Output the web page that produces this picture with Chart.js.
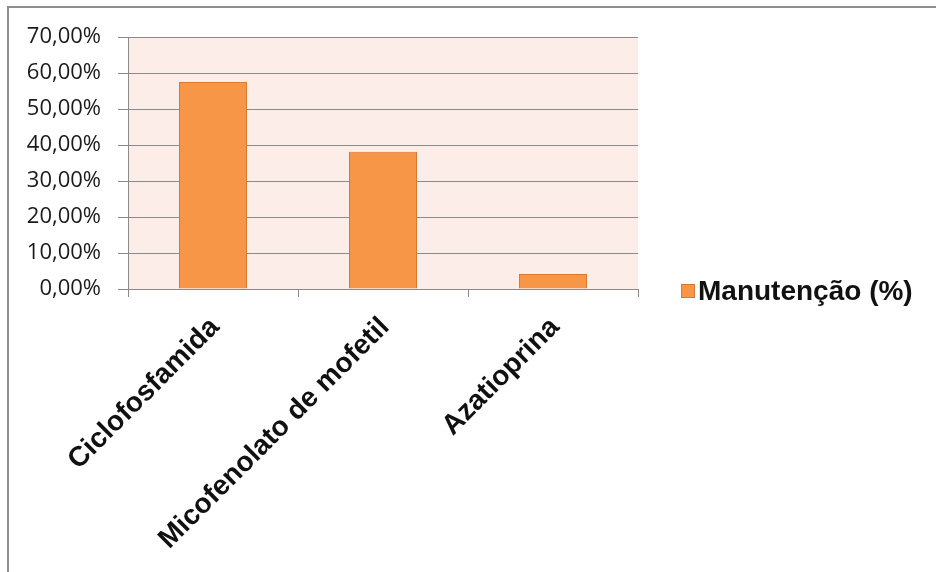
<!DOCTYPE html>
<html>
<head>
<meta charset="utf-8">
<script src="https://cdn.jsdelivr.net/npm/chart.js@4/dist/chart.umd.min.js"></script>
<style>
  html, body { margin: 0; padding: 0; background: #ffffff; }
  #wrap { position: relative; width: 936px; height: 572px; overflow: hidden; }
  #frame { position: absolute; left: 7px; top: 6px; width: 1000px; height: 1000px;
           border-left: 2px solid #8e8e8e; border-top: 2px solid #8e8e8e; }
  canvas { position: absolute; left: 0; top: 0; }
</style>
</head>
<body>
<div id="wrap">
  <div id="frame"></div>
  <canvas id="chart" width="936" height="572"></canvas>
</div>
<script>
// Medicamentos na fase de manutenção
const categories = ['Ciclofosfamida', 'Micofenolato de mofetil', 'Azatioprina'];
const seriesLabel = 'Manutenção (%)';
const manutencao = [57.5, 38.1, 4.2];
const yTicks = [0, 10, 20, 30, 40, 50, 60, 70];

const fmtPct = v => v.toFixed(2).replace('.', ',') + '%';

// light background behind the plot area
const plotBackground = {
  id: 'plotBackground',
  beforeDraw(chart) {
    const { ctx, chartArea: a } = chart;
    ctx.save();
    ctx.fillStyle = '#fcede8';
    ctx.fillRect(a.left, a.top, a.right - a.left, a.bottom - a.top);
    ctx.restore();
  }
};

// legend drawn to the right of the plot, from the dataset itself
const sideLegend = {
  id: 'sideLegend',
  afterDraw(chart) {
    const { ctx } = chart;
    const ds = chart.data.datasets[0];
    const x = 681, cy = 291, s = 14;
    ctx.save();
    ctx.fillStyle = ds.backgroundColor;
    ctx.strokeStyle = ds.borderColor;
    ctx.lineWidth = 1;
    ctx.fillRect(x, cy - s / 2, s, s);
    ctx.strokeRect(x + 0.5, cy - s / 2 + 0.5, s - 1, s - 1);
    ctx.fillStyle = '#111111';
    ctx.font = 'bold 28px "Liberation Sans", Arial, sans-serif';
    ctx.textBaseline = 'middle';
    ctx.textAlign = 'left';
    ctx.fillText(ds.label, x + s + 3, cy + 1);
    ctx.restore();
  }
};

new Chart(document.getElementById('chart'), {
  type: 'bar',
  data: {
    labels: categories,
    datasets: [{
      label: seriesLabel,
      data: manutencao,
      backgroundColor: '#f79646',
      borderColor: '#d9782f',
      borderWidth: 1,
      barPercentage: 0.4,
      categoryPercentage: 1.0
    }]
  },
  options: {
    responsive: false,
    animation: false,
    layout: { padding: { top: 37, right: 298, bottom: 0, left: 0 } },
    plugins: {
      legend: { display: false },
      tooltip: { enabled: false }
    },
    scales: {
      y: {
        min: 0,
        max: 70,
        afterFit(scale) { scale.width = 128; },
        afterBuildTicks(scale) { scale.ticks = yTicks.map(v => ({ value: v })); },
        ticks: {
          padding: 17,
          color: '#1a1a1a',
          font: { family: '"Open Sans", sans-serif', size: 22 },
          callback: v => fmtPct(v)
        },
        grid: { color: '#8a8a8a', lineWidth: 1, tickLength: 10 },
        border: { color: '#8a8a8a', width: 1 }
      },
      x: {
        afterFit(scale) { scale.height = 283; },
        ticks: {
          minRotation: 45,
          maxRotation: 45,
          padding: 14,
          labelOffset: 2,
          color: '#111111',
          font: { family: '"Liberation Sans", Arial, sans-serif', size: 28, weight: 'bold' }
        },
        grid: { drawOnChartArea: false, color: '#8a8a8a', tickLength: 8, offset: true },
        border: { color: '#8a8a8a', width: 1 }
      }
    }
  },
  plugins: [plotBackground, sideLegend]
});
</script>
</body>
</html>
